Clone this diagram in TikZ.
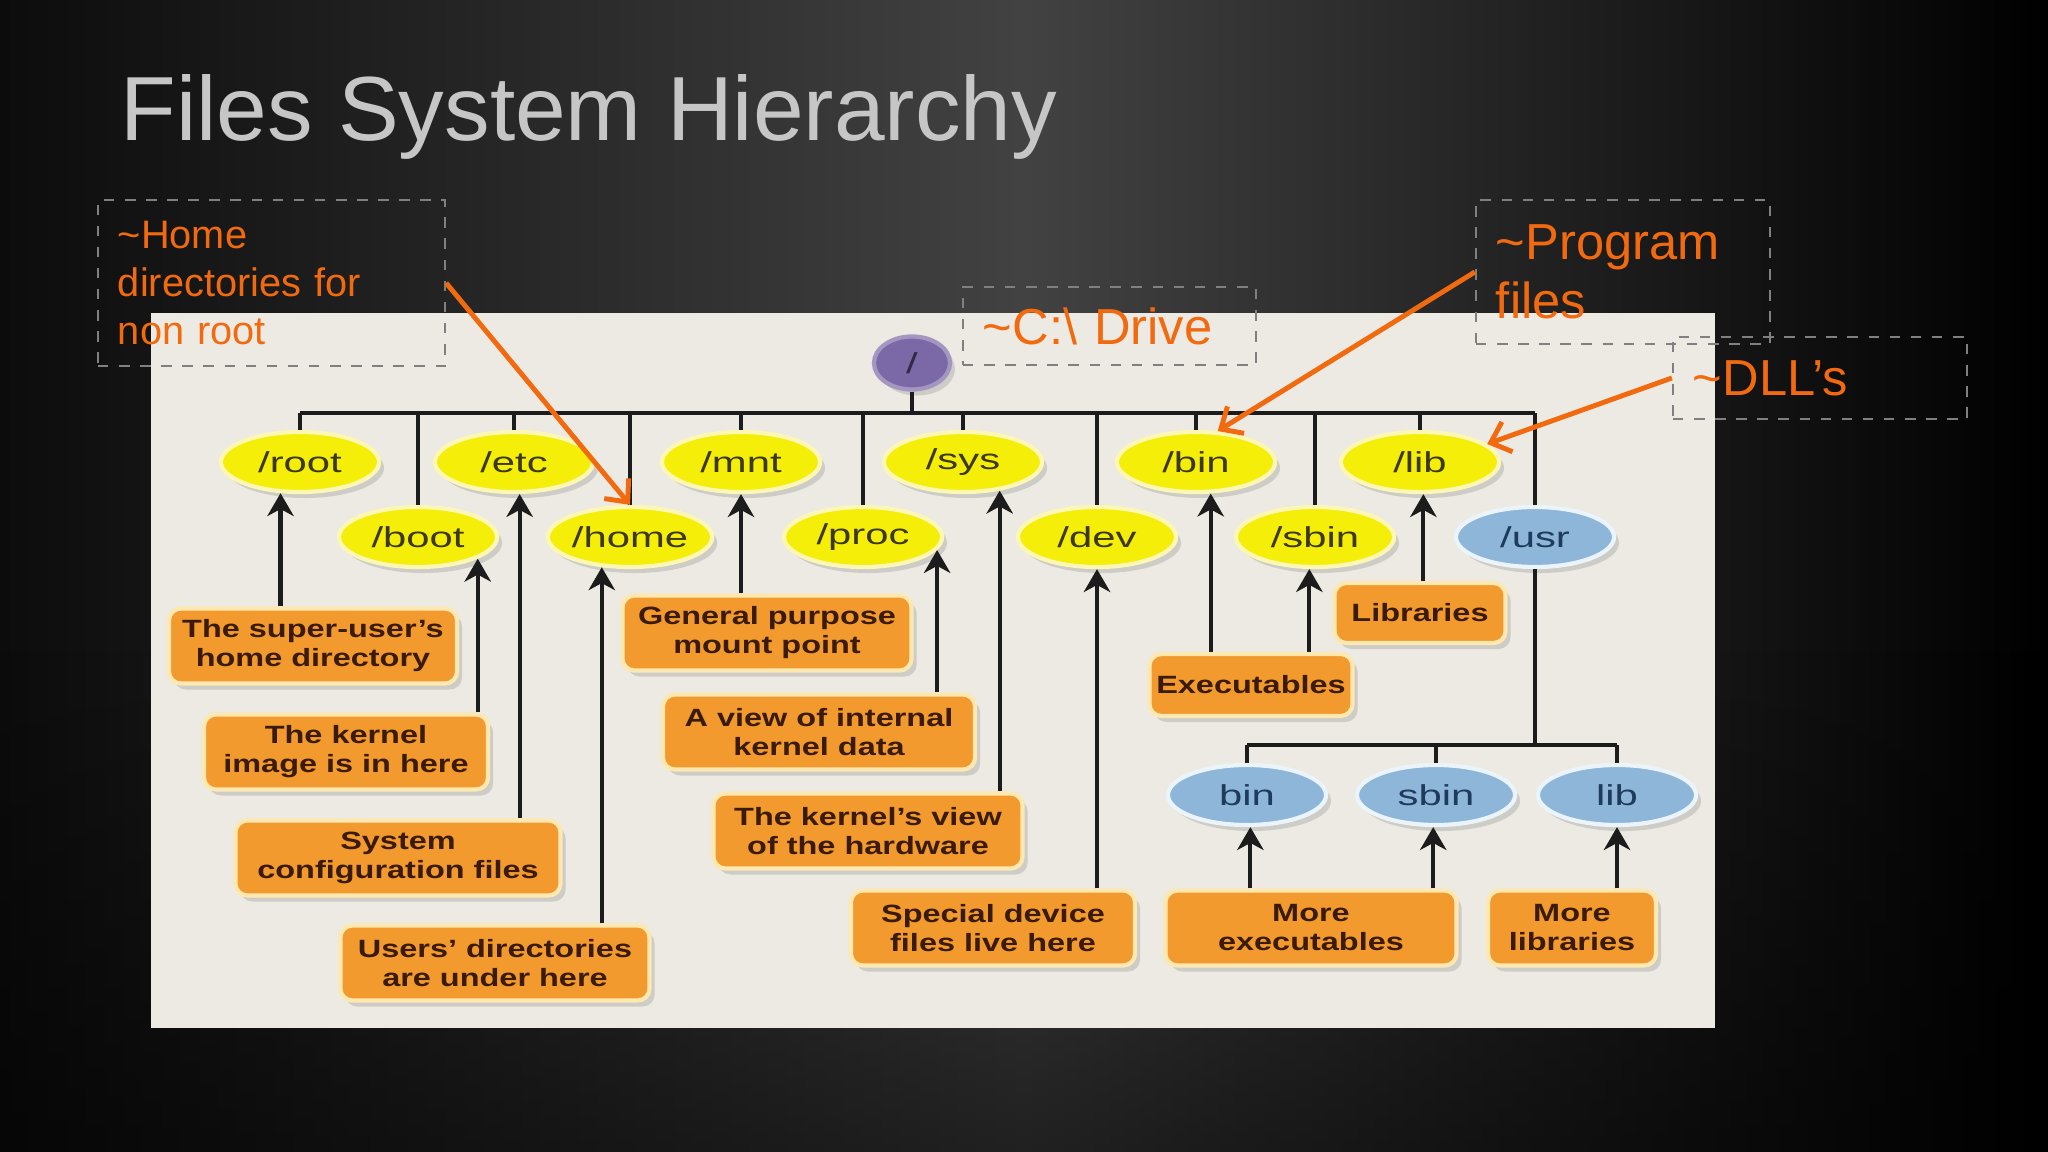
\documentclass[tikz,border=0pt]{standalone}
\usepackage{fontspec}
\setmainfont{Liberation Sans}
\newfontfamily\dirfont[FakeStretch=1.45]{Liberation Sans}
\newfontfamily\notefont[FakeStretch=1.3]{Liberation Sans}
\usetikzlibrary{shapes.geometric,arrows.meta,shadows,fadings}

\definecolor{bgmid}{HTML}{424242}
\definecolor{bgdark}{HTML}{0C0C0C}
\definecolor{panel}{HTML}{ECEAE2}
\definecolor{titlegray}{HTML}{C6C6C6}
\definecolor{dirylw}{HTML}{F5EE08}
\definecolor{dirrim}{HTML}{FCF7B4}
\definecolor{dirtxt}{HTML}{3C3812}
\definecolor{usrblue}{HTML}{8DB6D8}
\definecolor{usrrim}{HTML}{EAF4FA}
\definecolor{usrtxt}{HTML}{1E3B5C}
\definecolor{slashpurple}{HTML}{7B69A7}
\definecolor{noteorg}{HTML}{F29A2E}
\definecolor{noterim}{HTML}{FDE8B2}
\definecolor{notetxt}{HTML}{3A1A08}
\definecolor{hintorg}{HTML}{F26A10}
\definecolor{dashgray}{HTML}{808080}
\definecolor{wire}{HTML}{1C1C1C}

\newcommand\bignote{\fontsize{14.4}{16.7}\selectfont}

\tikzset{
  softshadow/.style={drop shadow={shadow xshift=0.05cm, shadow yshift=-0.06cm, opacity=0.28}},
  dir/.style={ellipse, fill=dirylw, draw=dirrim, line width=1.2pt,
    minimum width=1.58cm, minimum height=0.6cm, inner sep=0pt, text=dirtxt,
    font=\dirfont\fontsize{8.2}{9}\selectfont, softshadow},
  usrdir/.style={dir, fill=usrblue, draw=usrrim, text=usrtxt},
  rootdot/.style={dir, fill=slashpurple, draw=slashpurple!70!white,
    minimum width=0.76cm, minimum height=0.53cm, text=slashpurple!40!black},
  note/.style={rounded corners=0.12cm, fill=noteorg, draw=noterim, line width=1.2pt,
    align=center, minimum height=0.75cm, inner sep=0.05cm, text=notetxt,
    font=\notefont\bfseries\fontsize{7.1}{8.25}\selectfont, softshadow},
  link/.style={draw=wire, line width=1.2pt},
  arr/.style={link, -{Stealth[length=6.5pt, width=7.5pt, inset=2pt]}},
  callout/.style={draw=dashgray, dashed, line width=0.6pt, text=hintorg,
    align=left, inner xsep=0.2cm, inner ysep=0pt},
  pointer/.style={draw=hintorg, line width=1.4pt, -{Straight Barb[length=5pt, width=9pt]}}
}

\begin{document}
\begin{tikzpicture}[x=0.01cm, y=-0.01cm]
% backdrop and slide
\shade[left color=bgdark, right color=black, middle color=bgmid] (0,0) rectangle (2048,1152);
\fill[black, opacity=0.5, path fading=north] (0,650) rectangle (2048,1152);
\useasboundingbox (0,0) rectangle (2048,1152);
\fill[panel] (151,313) rectangle (1715,1028);

\node[anchor=base west, text=titlegray, font=\fontsize{25.9}{30}\selectfont, inner sep=0pt]
  (title) at (120,141) {Files System Hierarchy};

% directories
\node[rootdot] (slash) at (912,363) {/};
\coordinate (bus) at (912,413);

\node[dir] (rootd) at (300,462) {/root};
\node[dir] (etc)   at (514,462) {/etc};
\node[dir] (mnt)   at (741,462) {/mnt};
\node[dir] (sys)   at (963,462) {/sys};
\node[dir] (bin)   at (1196,462) {/bin};
\node[dir] (lib)   at (1420,462) {/lib};

\node[dir] (boot)  at (418,537) {/boot};
\node[dir] (home)  at (630,537) {/home};
\node[dir] (proc)  at (863,537) {/proc};
\node[dir] (dev)   at (1097,537) {/dev};
\node[dir] (sbin)  at (1315,537) {/sbin};
\node[usrdir] (usr) at (1535,537) {/usr};

\coordinate (subbus) at (1535,745);
\node[usrdir] (ubin)  at (1247,795) {bin};
\node[usrdir] (usbin) at (1436,795) {sbin};
\node[usrdir] (ulib)  at (1617,795) {lib};

% descriptions
\node[note, minimum width=2.88cm] (suhome)   at (313,646) {The super-user’s\\home directory};
\node[note, minimum width=2.84cm] (kimage)   at (346,752) {The kernel\\image is in here};
\node[note, minimum width=3.25cm] (sysconf)  at (398,858) {System\\configuration files};
\node[note, minimum width=3.09cm] (users)    at (495,963) {Users’ directories\\are under here};
\node[note, minimum width=2.89cm] (mntpt)    at (767,633) {General purpose\\mount point};
\node[note, minimum width=3.12cm] (kdata)    at (819,732) {A view of internal\\kernel data};
\node[note, minimum width=3.09cm] (hwview)   at (868,831) {The kernel’s view\\of the hardware};
\node[note, minimum width=2.84cm] (devfiles) at (993,928) {Special device\\files live here};
\node[note, minimum width=2.03cm, minimum height=0.62cm] (execs) at (1251,685) {Executables};
\node[note, minimum width=1.71cm, minimum height=0.6cm] (libs)   at (1420,613) {Libraries};
\node[note, minimum width=2.91cm] (moreexec) at (1311,928) {More\\executables};
\node[note, minimum width=1.68cm] (morelib)  at (1572,928) {More\\libraries};

% tree lines
\draw[link] (slash) -- (bus);
\draw[link] (rootd.north |- bus) -- (usr.north |- bus);
\foreach \d in {rootd,etc,mnt,sys,bin,lib,boot,home,proc,dev,sbin,usr}
  \draw[link] (\d.north |- bus) -- (\d.north);
\draw[link] (usr.south) -- (subbus);
\draw[link] (ubin.north |- subbus) -- (ulib.north |- subbus);
\foreach \d in {ubin,usbin,ulib}
  \draw[link] (\d.north |- subbus) -- (\d.north);

\draw[arr] (suhome.north -| rootd.-122) -- (rootd.-122);
\draw[arr] (kimage.north -| boot.-20) -- (boot.-20);
\draw[arr] (sysconf.north -| etc.-80) -- (etc.-80);
\draw[arr] (users.north -| home.-133) -- (home.-133);
\draw[arr] (mntpt.north -| mnt.south) -- (mnt.south);
\draw[arr] (kdata.north -| proc.-10) -- (proc.-10);
\draw[arr] (hwview.north -| sys.-38) -- (sys.-38);
\draw[arr] (devfiles.north -| dev.south) -- (dev.south);
\draw[arr] (execs.north -| bin.-65) -- (bin.-65);
\draw[arr] (execs.north -| sbin.-100) -- (sbin.-100);
\draw[arr] (libs.north -| lib.-84) -- (lib.-84);
\draw[arr] (moreexec.north -| ubin.-84) -- (ubin.-84);
\draw[arr] (moreexec.north -| usbin.-95) -- (usbin.-95);
\draw[arr] (morelib.north -| ulib.south) -- (ulib.south);

% windows hints
\node[callout, text width=3.07cm, minimum height=1.66cm, font=\fontsize{11.3}{13.6}\selectfont]
  (homenote) at (271.5,283) {\textasciitilde Home\\directories for\\non root};
\node[callout, text width=2.53cm, minimum height=0.78cm, font=\bignote]
  (cdrive) at (1109.5,326) {\textasciitilde C:\textbackslash\ Drive};
\node[callout, text width=2.54cm, minimum height=1.44cm, font=\bignote]
  (progfiles) at (1623,272) {\textasciitilde Program\\files};
\node[callout, text width=2.54cm, minimum height=0.82cm, font=\bignote]
  (dlls) at (1820,378) {\textasciitilde DLL’s};

\draw[pointer] (homenote.east) -- (home.north);
\draw[pointer] (progfiles.west) -- (bin.55);
\draw[pointer] (dlls.west) -- (lib.15);
\end{tikzpicture}
\end{document}
